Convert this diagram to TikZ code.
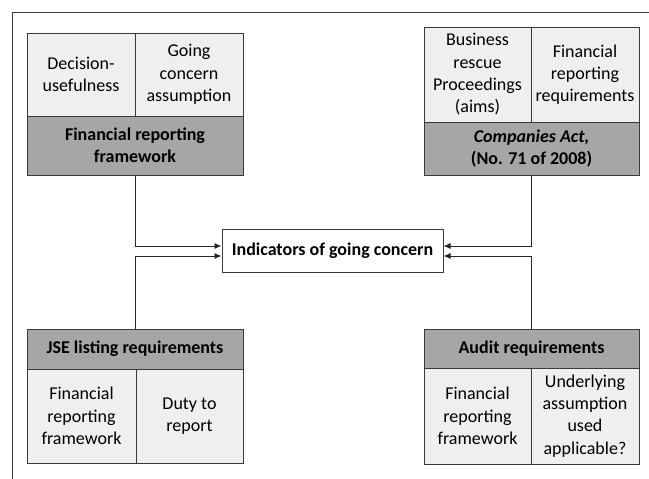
\documentclass[tikz,border=0pt]{standalone}
\usepackage{fontspec}
\setmainfont{Carlito}
\usepackage{tikz}
\usetikzlibrary{arrows, arrows.meta}
\definecolor{cellgray}{HTML}{EFEFEF}
\definecolor{headgray}{HTML}{A6A6A6}
\definecolor{edgegray}{HTML}{3A3A3A}

\begin{document}
\begin{tikzpicture}[x=1pt,y=-1pt]
\tikzset{font=\fontsize{18}{22.3}\selectfont}
\tikzset{every node/.style={draw=edgegray, line width=1pt, inner sep=0pt, align=center}}
\tikzset{cell/.style={fill=cellgray}}
\tikzset{head/.style={fill=headgray, font=\fontsize{18}{22.3}\selectfont\bfseries}}
\tikzset{link/.style={draw=black!85, line width=0.9pt, -{Latex[length=7pt,width=6pt]}}}
\useasboundingbox (0,0) rectangle (649,479);
\draw[edgegray, line width=1pt] (12,479) -- (12,12) -- (649,12);
% top left
\node[cell, minimum width=108, minimum height=83] (dec) at (81,74.5) {Decision-\\usefulness};
\node[cell, minimum width=108, minimum height=83] (gca) at (189,74.5) {Going\\concern\\assumption};
\node[head, minimum width=216, minimum height=59] (frf) at (135,145.5) {Financial reporting\\framework};
% top right
\node[cell, minimum width=107, minimum height=95] (brp) at (477.5,74.5) {Business\\rescue\\Proceedings\\(aims)};
\node[cell, minimum width=108, minimum height=95] (frr) at (585,74.5) {Financial\\reporting\\requirements};
\node[head, minimum width=215, minimum height=53] (act) at (531.5,148.5) {\textit{Companies Act,}\\(No. 71 of 2008)};
% centre
\node[minimum width=221, minimum height=43, font=\fontsize{18}{22.3}\selectfont\bfseries] (ind) at (332.5,250.5) {Indicators of going concern};
% bottom left
\node[head, minimum width=216, minimum height=40] (jse) at (135,349) {JSE listing requirements};
\node[cell, minimum width=109, minimum height=94] (jfr) at (81.5,416) {Financial\\reporting\\framework};
\node[cell, minimum width=107, minimum height=94] (dty) at (189.5,416) {Duty to\\report};
% bottom right
\node[head, minimum width=215, minimum height=39] (aud) at (531.5,348.5) {Audit requirements};
\node[cell, minimum width=107, minimum height=96] (afr) at (477.5,416) {Financial\\reporting\\framework};
\node[cell, minimum width=108, minimum height=96] (uas) at (585,416) {Underlying\\assumption\\used\\applicable?};
% arrows
\coordinate (inL1) at ([yshift=4.5pt]ind.west);
\coordinate (inL2) at ([yshift=-5.5pt]ind.west);
\coordinate (inR1) at ([yshift=4.5pt]ind.east);
\coordinate (inR2) at ([yshift=-5.5pt]ind.east);
\draw[link] (frf.south) |- (inL1);
\draw[link] (jse.north) |- (inL2);
\draw[link] (act.south) |- (inR1);
\draw[link] (aud.north) |- (inR2);
\end{tikzpicture}
\end{document}
